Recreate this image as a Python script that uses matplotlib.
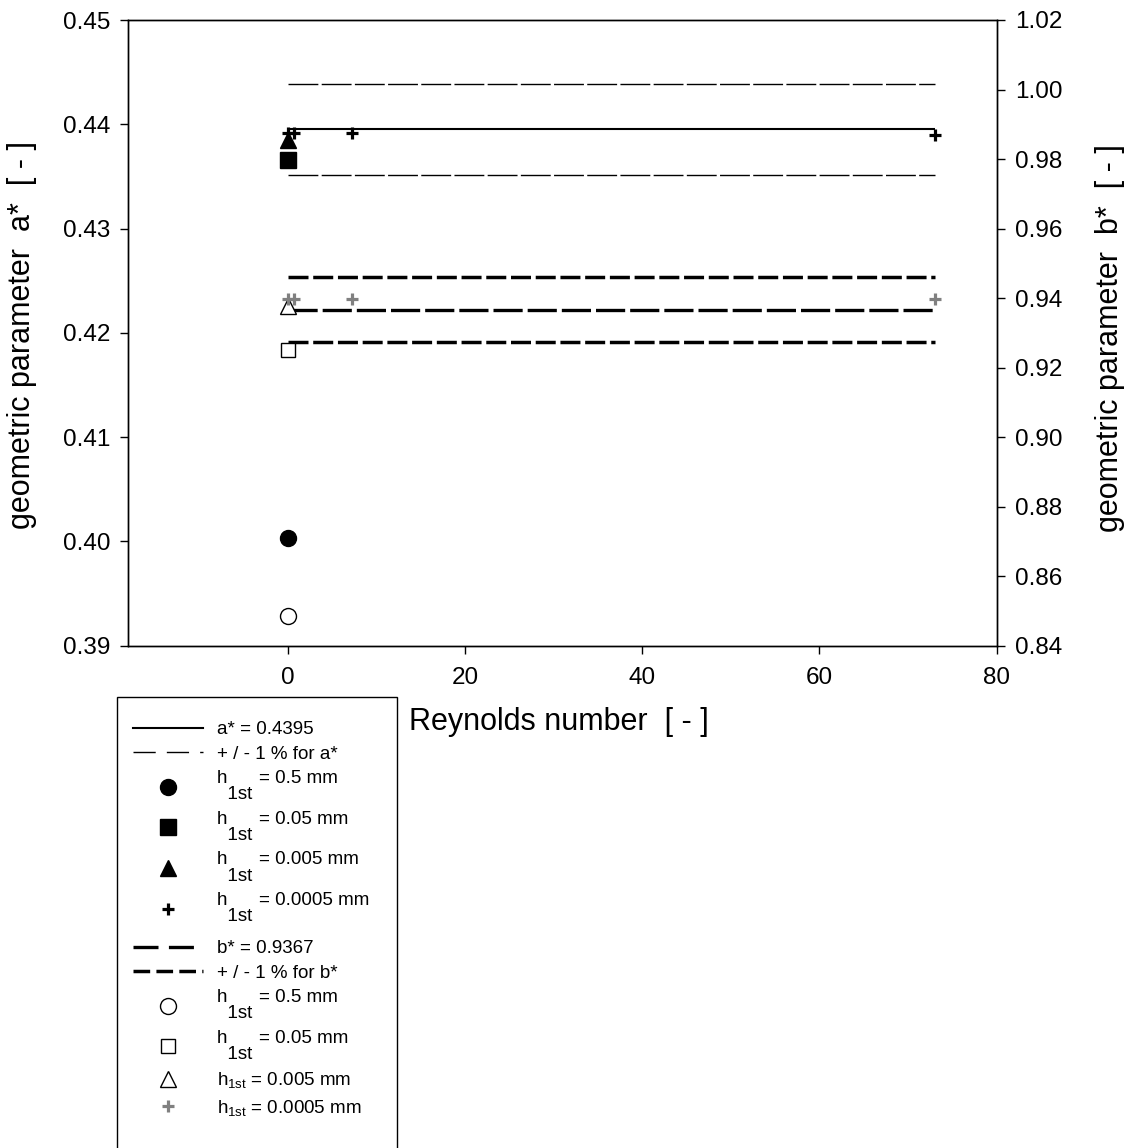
import matplotlib
matplotlib.use('Agg')
import numpy as np
import matplotlib.pyplot as plt
from matplotlib.lines import Line2D
from matplotlib.patches import Rectangle
from matplotlib.ticker import FormatStrFormatter

plt.rcParams['font.family'] = ['Liberation Sans', 'DejaVu Sans']
plt.rcParams['mathtext.fontset'] = 'custom'
plt.rcParams['mathtext.rm'] = 'Liberation Sans'
plt.rcParams['mathtext.it'] = 'Liberation Sans:italic'
plt.rcParams['lines.scale_dashes'] = False

# ---------------- data ----------------
re_line = [0.073, 73]
a_star = 0.4395
b_star = 0.9367
tol = 0.01

re_single = [0.073]
re_multi = [0.073, 0.73, 7.3, 73]

# a* (filled markers, left axis)
a_h05 = [0.4003]
a_h005 = [0.4366]
a_h0005 = [0.4385]
a_h00005 = [0.4392, 0.4392, 0.4392, 0.4390]

# b* (open markers, right axis)
b_h05 = [0.8485]
b_h005 = [0.9251]
b_h0005 = [0.9376]
b_h00005 = [0.9396, 0.9396, 0.9396, 0.9396]

x_ticks = [0, 20, 40, 60, 80]
a_ticks = [0.39, 0.40, 0.41, 0.42, 0.43, 0.44, 0.45]
b_ticks = [0.84, 0.86, 0.88, 0.90, 0.92, 0.94, 0.96, 0.98, 1.00, 1.02]

h_names = ['0.5', '0.05', '0.005', '0.0005']

# ---------------- figure ----------------
W, H = 1128, 1148
fig = plt.figure(figsize=(W / 100, H / 100), dpi=100)
L, R, T, B = 128.3, 996.7, 20, 645.7
ax = fig.add_axes([L / W, 1 - B / H, (R - L) / W, (B - T) / H])
ax2 = ax.twinx()

gray = '#808080'
TICK_FS = 17.5
LAB_FS = 22
LEG_FS = 13.5

# lines a*
ax.plot(re_line, [a_star] * 2, color='k', lw=1.5, solid_capstyle='butt', zorder=2)
ax.plot(re_line, [a_star * (1 + tol)] * 2, color='k', lw=1.0, dashes=(21.5, 2.4), zorder=2)
ax.plot(re_line, [a_star * (1 - tol)] * 2, color='k', lw=1.0, dashes=(21.5, 2.4), zorder=2)

# markers a*
ms_kw = dict(linestyle='none', zorder=3)
ax.plot(re_single, a_h05, marker='o', ms=11.5, color='k', **ms_kw)
ax.plot(re_single, a_h005, marker='s', ms=11, color='k', **ms_kw)
ax.plot(re_single, a_h0005, marker='^', ms=12, color='k', **ms_kw)
ax.plot(re_multi, a_h00005, marker='+', ms=8, mew=2.3, color='k', **ms_kw)

# lines b*
ax2.plot(re_line, [b_star] * 2, color='k', lw=2.4, dashes=(21, 3.6), dash_capstyle='butt', zorder=2)
ax2.plot(re_line, [b_star * (1 + tol)] * 2, color='k', lw=2.5, dashes=(14.4, 3.4), zorder=2)
ax2.plot(re_line, [b_star * (1 - tol)] * 2, color='k', lw=2.5, dashes=(14.4, 3.4), zorder=2)

# markers b*
ax2.plot(re_single, b_h05, marker='o', ms=11.5, mfc='white', mec='k', mew=1.0, **ms_kw)
ax2.plot(re_single, b_h005, marker='s', ms=10.5, mfc='white', mec='k', mew=1.0, **ms_kw)
ax2.plot(re_single, b_h0005, marker='^', ms=12, mfc='white', mec='k', mew=1.0, **ms_kw)
ax2.plot(re_multi, b_h00005, marker='+', ms=8, mew=2.3, color=gray, **ms_kw)

# axes formatting
ax.set_xlim(-18, 80)
ax.set_xticks(x_ticks)
ax.set_ylim(0.39, 0.45)
ax.set_yticks(a_ticks)
ax.yaxis.set_major_formatter(FormatStrFormatter('%.2f'))
ax2.set_ylim(0.84, 1.02)
ax2.set_yticks(b_ticks)
ax2.yaxis.set_major_formatter(FormatStrFormatter('%.2f'))

for a in (ax, ax2):
    for sp in a.spines.values():
        sp.set_linewidth(1.0)
        sp.set_color('k')
ax.tick_params(axis='both', direction='out', length=6, width=1, labelsize=TICK_FS, pad=7,
               top=False, right=False)
ax.tick_params(axis='x', pad=9)
ax2.tick_params(axis='y', direction='out', length=6, width=1, labelsize=TICK_FS, pad=7)

# axis labels
fig.text(22 / W, 1 - 335 / H, 'geometric parameter  a*  [ - ]', rotation=90,
         ha='center', va='center', fontsize=LAB_FS)
fig.text(1110 / W, 1 - 338 / H, 'geometric parameter  b*  [ - ]', rotation=90,
         ha='center', va='center', fontsize=LAB_FS)
fig.text(409 / W, 1 - 722 / H, 'Reynolds number  [ - ]', ha='left', va='center',
         fontsize=LAB_FS)


# legend
def two_line(h):
    # "h" with the "1st" subscript on a lowered second line
    return f'h      = {h} mm\n  1st'


def math_sub(h):
    return r'h$_{\mathregular{1st}}$' + f' = {h} mm'


handles1 = [
    Line2D([], [], color='k', lw=1.5),
    Line2D([], [], color='k', lw=1.0, dashes=(16, 8)),
    Line2D([], [], color='k', marker='o', ms=11.5, ls='none'),
    Line2D([], [], color='k', marker='s', ms=11, ls='none'),
    Line2D([], [], color='k', marker='^', ms=12, ls='none'),
    Line2D([], [], color='k', marker='+', ms=8, mew=2.3, ls='none'),
]
labels1 = ['a* = 0.4395', '+ / - 1 % for a*'] + [two_line(h) for h in h_names]

handles2 = [
    Line2D([], [], color='k', lw=2.4, dashes=(18, 7.5)),
    Line2D([], [], color='k', lw=2.5, dashes=(12, 4.5)),
    Line2D([], [], marker='o', ms=11.5, mfc='white', mec='k', mew=1.0, ls='none'),
    Line2D([], [], marker='s', ms=10.5, mfc='white', mec='k', mew=1.0, ls='none'),
    Line2D([], [], marker='^', ms=12, mfc='white', mec='k', mew=1.0, ls='none'),
    Line2D([], [], marker='+', ms=8, mew=2.3, color=gray, ls='none'),
]
labels2 = ['b* = 0.9367', '+ / - 1 % for b*', two_line(h_names[0]), two_line(h_names[1]),
           math_sub(h_names[2]), math_sub(h_names[3])]

leg_kw = dict(loc='upper left', frameon=False, fontsize=LEG_FS, handlelength=3.73,
              handletextpad=0.75, borderpad=0, borderaxespad=0, labelspacing=0.4,
              numpoints=1)
leg1 = fig.legend(handles1, labels1, bbox_to_anchor=(133 / W, 1 - 721 / H), **leg_kw)
leg2 = fig.legend(handles2, labels2, bbox_to_anchor=(133 / W, 1 - 940 / H), **leg_kw)
for lg in (leg1, leg2):
    for t in lg.get_texts():
        t.set_linespacing(0.93)

fig.patches.append(Rectangle((116.7 / W, -0.05), (396.7 - 116.7) / W, 1 - 696.7 / H + 0.05,
                             transform=fig.transFigure, fill=False, edgecolor='k', lw=1.0,
                             clip_on=False))

fig.savefig('out.png', dpi=100)
